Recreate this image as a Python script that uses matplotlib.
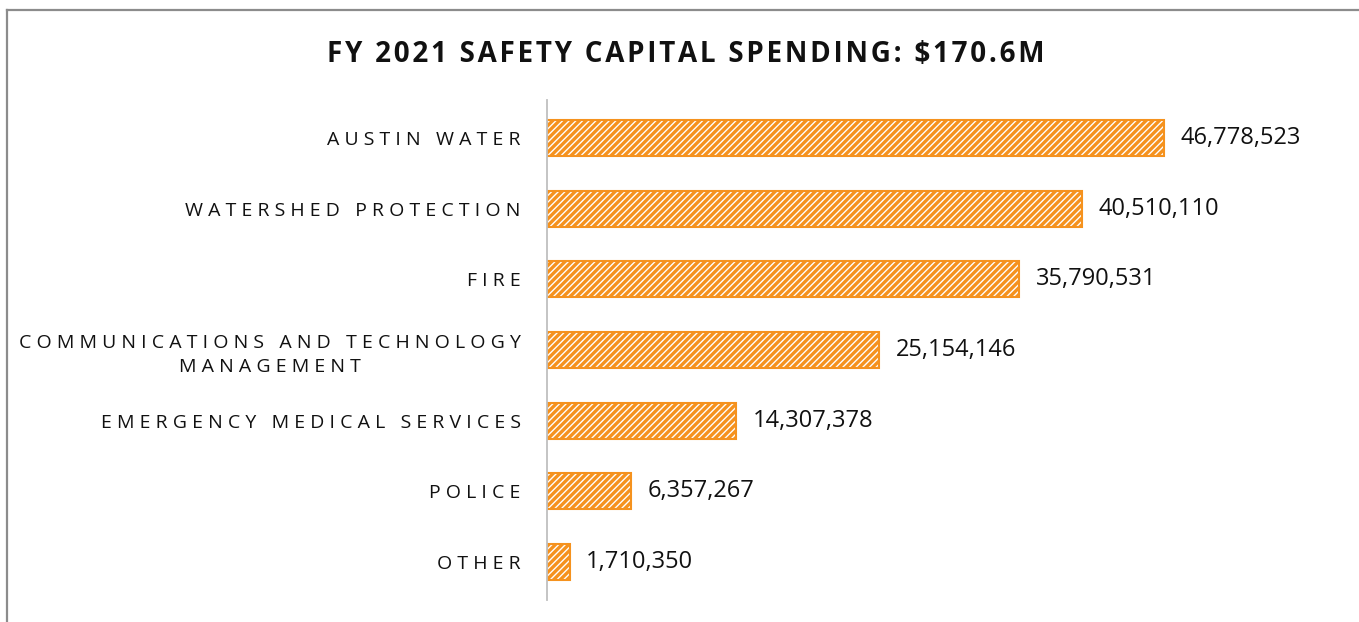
import matplotlib.pyplot as plt
from matplotlib.lines import Line2D

plt.rcParams['font.family'] = ['Open Sans', 'DejaVu Sans']
plt.rcParams['hatch.linewidth'] = 2.4

# data
departments = ["Austin Water", "Watershed Protection", "Fire",
               "Communications and Technology\nManagement",
               "Emergency Medical Services", "Police", "Other"]
spending = [46778523, 40510110, 35790531, 25154146, 14307378, 6357267, 1710350]
title = "FY 2021 SAFETY CAPITAL SPENDING: $170.6M"

orange = "#F5921E"


def spaced(text, gap=" ", word_gap="   "):
    # fake letter spacing used by the original chart
    lines = []
    for line in text.upper().split("\n"):
        words = [gap.join(w) for w in line.split(" ")]
        lines.append(word_gap.join(words))
    return "\n".join(lines)


W, H = 1359, 622
fig = plt.figure(figsize=(W / 100, H / 100), dpi=100)

# axes placed in pixel terms: zero line at x=547
x0, x1 = 547, 1207
y_top, y_bot = 103, 597
ax = fig.add_axes([x0 / W, 1 - y_bot / H, (x1 - x0) / W, (y_bot - y_top) / H])

ypos = list(range(len(departments)))[::-1]
ax.barh(ypos, spending, height=0.51, color="white", edgecolor=orange,
        hatch="/////", linewidth=1.5)
ax.set_xlim(0, 50e6)
ax.set_ylim(-0.5, len(departments) - 0.5)

for y, v in zip(ypos, spending):
    ax.text(v + 1.25e6, y, f"{v:,}", va="center", ha="left",
            fontsize=17, color="#111111", clip_on=False)

ax.set_yticks(ypos)
ax.set_yticklabels([spaced(d) for d in departments], fontsize=14,
                   color="#111111", multialignment="center", linespacing=1.4)
ax.tick_params(axis="y", length=0, pad=19)
ax.set_xticks([])
for s in ["top", "right", "bottom"]:
    ax.spines[s].set_visible(False)
ax.spines["left"].set_color("#BFBFBF")
ax.spines["left"].set_linewidth(1.3)
ax.spines["left"].set_bounds(-0.54, 6.54)

fig.text(686 / W, 1 - 55 / H, "\u200a".join(title), ha="center", va="center",
         fontsize=20, fontweight="bold", color="#111111")

# outer frame (only top and left edges visible in the crop)
fig.add_artist(Line2D([7 / W, 1], [1 - 10 / H, 1 - 10 / H], color="#8C8C8C", lw=1.6))
fig.add_artist(Line2D([7 / W, 7 / W], [0, 1 - 10 / H], color="#8C8C8C", lw=1.6))

fig.savefig("out.png", dpi=100, facecolor="white")
